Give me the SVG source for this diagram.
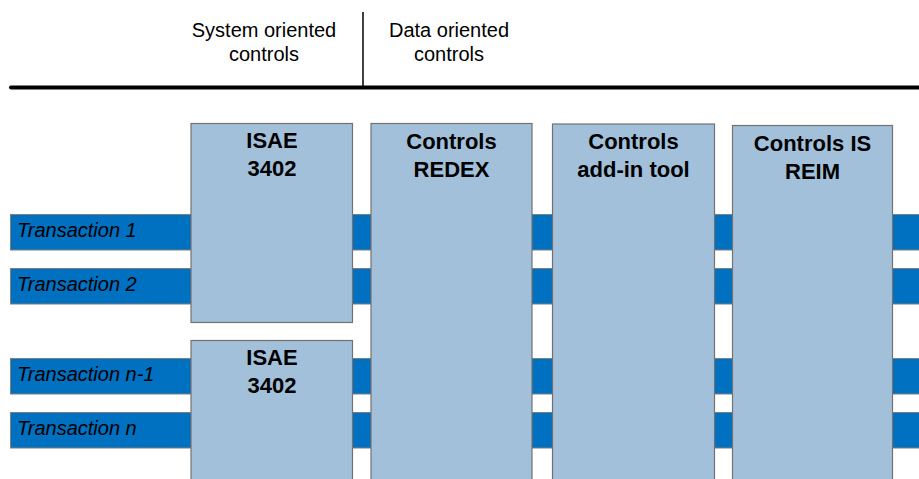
<svg xmlns="http://www.w3.org/2000/svg" width="919" height="479" viewBox="0 0 919 479">
  <style>
    .hdr { font-family: "Liberation Sans", Arial, sans-serif; font-size: 20px; fill: #000; text-anchor: middle; }
    .bar { fill: #0070C0; stroke: #7F7F7F; stroke-width: 1; }
    .btxt { font-family: "Liberation Sans", Arial, sans-serif; font-size: 20px; font-style: italic; fill: #000; }
    .box { fill: #A2C0DA; stroke: #767171; stroke-width: 1.2; }
    .ttl { font-family: "Liberation Sans", Arial, sans-serif; font-size: 22px; font-weight: bold; fill: #000; text-anchor: middle; }
  </style>
  <rect width="919" height="479" fill="#FFFFFF"/>

  <g id="header">
    <text class="hdr" x="264" y="37">System oriented</text>
    <text class="hdr" x="264" y="61">controls</text>
    <text class="hdr" x="449" y="37">Data oriented</text>
    <text class="hdr" x="449" y="61">controls</text>
    <line x1="363" y1="12" x2="363" y2="87" stroke="#000" stroke-width="1.5"/>
    <line x1="11" y1="87.5" x2="925" y2="87.5" stroke="#000" stroke-width="4" stroke-linecap="round"/>
  </g>

  <g id="connectors">
    <g id="transaction-1">
      <rect class="bar" x="10.5" y="214.5" width="920" height="35.5"/>
      <text class="btxt" x="17" y="237">Transaction 1</text>
    </g>
    <g id="transaction-2">
      <rect class="bar" x="10.5" y="268.5" width="920" height="35.5"/>
      <text class="btxt" x="17" y="291">Transaction 2</text>
    </g>
    <g id="transaction-n-1">
      <rect class="bar" x="10.5" y="358.5" width="920" height="35.5"/>
      <text class="btxt" x="17" y="381">Transaction n-1</text>
    </g>
    <g id="transaction-n">
      <rect class="bar" x="10.5" y="412.5" width="920" height="35.5"/>
      <text class="btxt" x="17" y="435">Transaction n</text>
    </g>
  </g>

  <g id="isae-3402-top">
    <rect class="box" x="191" y="123.5" width="161.5" height="199"/>
    <text class="ttl" x="272" y="148">ISAE</text>
    <text class="ttl" x="272" y="176">3402</text>
  </g>

  <g id="isae-3402-bottom">
    <rect class="box" x="191" y="340.5" width="161.5" height="160"/>
    <text class="ttl" x="272" y="365">ISAE</text>
    <text class="ttl" x="272" y="393">3402</text>
  </g>

  <g id="controls-redex">
    <rect class="box" x="371" y="123.5" width="161" height="377"/>
    <text class="ttl" x="451.5" y="149">Controls</text>
    <text class="ttl" x="451.5" y="177">REDEX</text>
  </g>

  <g id="controls-add-in-tool">
    <rect class="box" x="552.5" y="124" width="162" height="377"/>
    <text class="ttl" x="633.5" y="149">Controls</text>
    <text class="ttl" x="633.5" y="177">add-in tool</text>
  </g>

  <g id="controls-is-reim">
    <rect class="box" x="732.5" y="125.5" width="160" height="377"/>
    <text class="ttl" x="812.5" y="151">Controls IS</text>
    <text class="ttl" x="812.5" y="179">REIM</text>
  </g>
</svg>
